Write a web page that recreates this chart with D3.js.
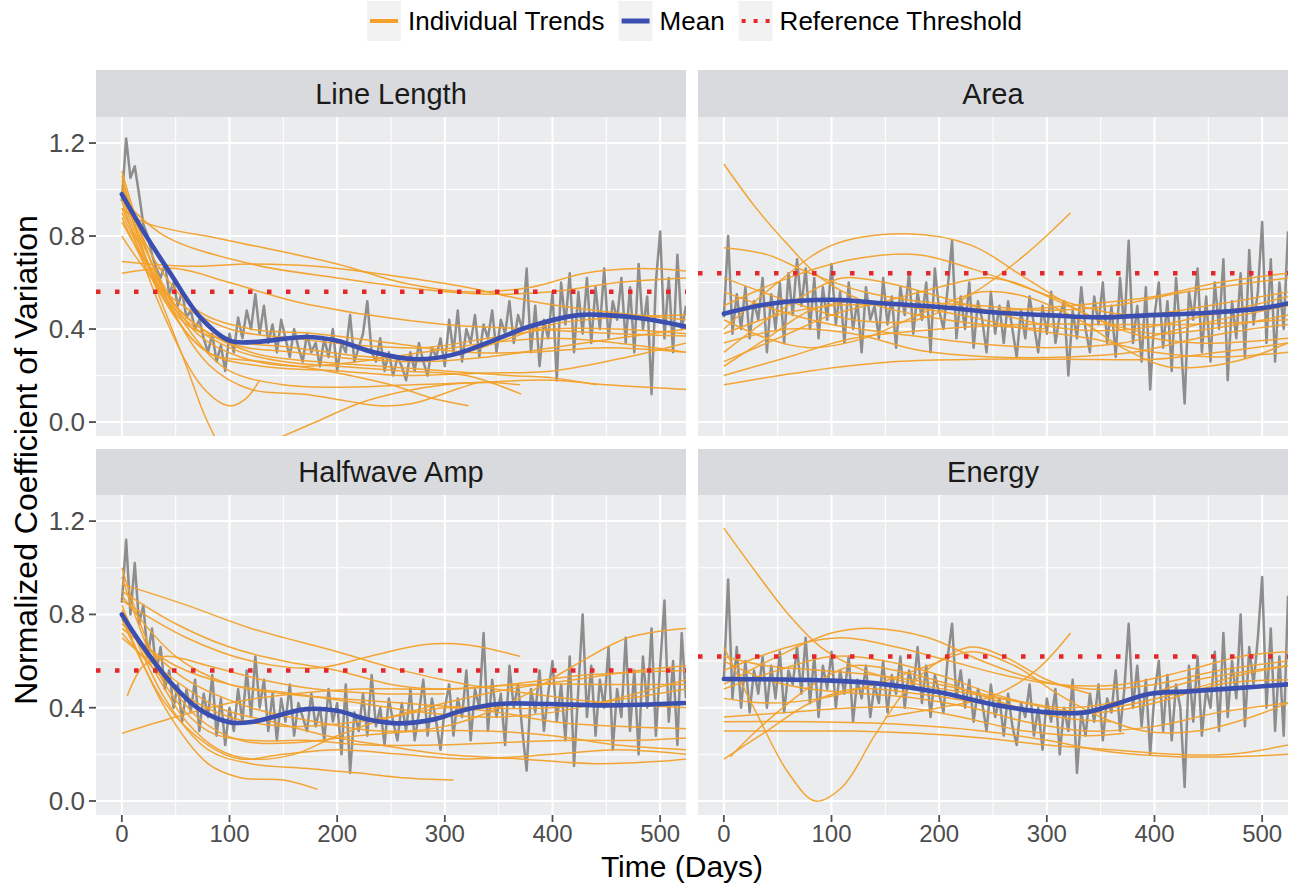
<!DOCTYPE html>
<html>
<head>
<meta charset="utf-8">
<script src="https://cdn.jsdelivr.net/npm/d3@7"></script>
<style>
  body { margin: 0; background: #fff; }
  text { font-family: "Liberation Sans", Arial, Helvetica, sans-serif; }
</style>
</head>
<body>
<svg width="1303" height="888"></svg>
<script>
// facets
let panels = ["Line Length", "Area", "Halfwave Amp", "Energy"];
let thresholds = [0.56, 0.64, 0.56, 0.62];

// daily CV (gray), one reading every 4 days from day 0
let grayStep = 4;
let grayLineLength = [
  0.95, 1.22, 1.05, 1.10, 0.98,
  0.85, 0.80, 0.72, 0.66, 0.62, 0.68,
  0.55, 0.60, 0.50, 0.56, 0.45,
  0.48, 0.40, 0.44, 0.36, 0.30, 0.38, 0.26, 0.33, 0.22, 0.38,
  0.30, 0.45, 0.36, 0.48, 0.40, 0.55, 0.38, 0.50, 0.34, 0.42,
  0.30, 0.44, 0.36, 0.28, 0.40, 0.32, 0.26, 0.38, 0.30, 0.34,
  0.24, 0.36, 0.28, 0.40, 0.22, 0.34, 0.30, 0.46, 0.26, 0.32,
  0.38, 0.52, 0.30, 0.26, 0.36, 0.22, 0.30, 0.20, 0.28, 0.24,
  0.18, 0.30, 0.22, 0.34, 0.26, 0.20, 0.32, 0.28, 0.36, 0.24,
  0.44, 0.30, 0.48, 0.26, 0.40, 0.34, 0.46, 0.28, 0.42, 0.36,
  0.48, 0.30, 0.44, 0.38, 0.52, 0.34, 0.46, 0.40, 0.66, 0.30,
  0.50, 0.24, 0.44, 0.36, 0.56, 0.18, 0.60, 0.42, 0.64, 0.30,
  0.56, 0.38, 0.62, 0.34, 0.58, 0.40, 0.66, 0.36, 0.52, 0.44,
  0.62, 0.34, 0.58, 0.30, 0.68, 0.40, 0.54, 0.12, 0.60, 0.82,
  0.36, 0.62, 0.30, 0.72, 0.40, 0.50
];
let grayArea = [
  0.45, 0.80, 0.38, 0.55, 0.40,
  0.58, 0.36, 0.52, 0.44, 0.62, 0.30,
  0.55, 0.40, 0.60, 0.34, 0.64,
  0.46, 0.70, 0.50, 0.66, 0.40, 0.62, 0.36, 0.58, 0.44, 0.68,
  0.42, 0.56, 0.34, 0.60, 0.40, 0.52, 0.30, 0.58, 0.44, 0.50,
  0.36, 0.62, 0.42, 0.54, 0.32, 0.58, 0.46, 0.64, 0.38, 0.56,
  0.44, 0.60, 0.30, 0.66, 0.48, 0.40, 0.58, 0.78, 0.36, 0.54,
  0.40, 0.60, 0.32, 0.52, 0.44, 0.30, 0.56, 0.38, 0.50, 0.34,
  0.52, 0.40, 0.28, 0.48, 0.36, 0.54, 0.42, 0.30, 0.50, 0.38,
  0.56, 0.34, 0.46, 0.52, 0.20, 0.48, 0.36, 0.58, 0.40, 0.30,
  0.54, 0.42, 0.60, 0.34, 0.50, 0.28, 0.62, 0.40, 0.78, 0.34,
  0.50, 0.26, 0.58, 0.14, 0.46, 0.60, 0.32, 0.52, 0.22, 0.62,
  0.38, 0.08, 0.56, 0.44, 0.66, 0.30, 0.54, 0.26, 0.60, 0.40,
  0.70, 0.18, 0.52, 0.36, 0.64, 0.28, 0.74, 0.42, 0.56, 0.86,
  0.34, 0.70, 0.26, 0.60, 0.40, 0.82
];
let grayHalfwave = [
  0.85, 1.12, 0.80, 1.02, 0.76,
  0.84, 0.62, 0.74, 0.55, 0.66, 0.48,
  0.56, 0.40, 0.50, 0.34, 0.48,
  0.38, 0.52, 0.30, 0.46, 0.36, 0.54, 0.28, 0.44, 0.24, 0.40,
  0.30, 0.48, 0.34, 0.56, 0.36, 0.62, 0.40, 0.52, 0.30, 0.46,
  0.26, 0.44, 0.34, 0.50, 0.28, 0.42, 0.36, 0.30, 0.46, 0.32,
  0.40, 0.26, 0.48, 0.34, 0.42, 0.20, 0.50, 0.12, 0.38, 0.30,
  0.46, 0.28, 0.54, 0.32, 0.40, 0.24, 0.44, 0.34, 0.26, 0.42,
  0.30, 0.48, 0.26, 0.38, 0.52, 0.28, 0.44, 0.34, 0.22, 0.40,
  0.50, 0.28, 0.44, 0.36, 0.56, 0.26, 0.48, 0.40, 0.72, 0.30,
  0.52, 0.36, 0.46, 0.24, 0.58, 0.40, 0.50, 0.30, 0.13, 0.48,
  0.38, 0.56, 0.30, 0.46, 0.60, 0.34, 0.50, 0.26, 0.62, 0.15,
  0.48, 0.80, 0.36, 0.58, 0.28, 0.52, 0.40, 0.66, 0.22, 0.48,
  0.36, 0.70, 0.30, 0.56, 0.20, 0.62, 0.40, 0.74, 0.28, 0.58,
  0.86, 0.34, 0.60, 0.24, 0.72, 0.44
];
let grayEnergy = [
  0.52, 0.95, 0.44, 0.66, 0.40,
  0.60, 0.38, 0.56, 0.46, 0.62, 0.40,
  0.58, 0.44, 0.64, 0.38, 0.56,
  0.50, 0.66, 0.46, 0.70, 0.42, 0.62, 0.36, 0.58, 0.48, 0.64,
  0.40, 0.56, 0.46, 0.62, 0.34, 0.52, 0.44, 0.58, 0.36, 0.50,
  0.42, 0.60, 0.38, 0.54, 0.46, 0.62, 0.40, 0.56, 0.48, 0.66,
  0.42, 0.58, 0.36, 0.54, 0.46, 0.38, 0.62, 0.76, 0.44, 0.56,
  0.40, 0.52, 0.34, 0.48, 0.42, 0.30, 0.50, 0.36, 0.44, 0.28,
  0.46, 0.32, 0.24, 0.42, 0.36, 0.50, 0.28, 0.40, 0.22, 0.44,
  0.34, 0.48, 0.20, 0.40, 0.30, 0.52, 0.12, 0.38, 0.28, 0.46,
  0.34, 0.50, 0.26, 0.44, 0.38, 0.56, 0.30, 0.48, 0.76, 0.40,
  0.58, 0.32, 0.52, 0.20, 0.46, 0.60, 0.30, 0.54, 0.26, 0.50,
  0.40, 0.06, 0.58, 0.34, 0.62, 0.28, 0.48, 0.40, 0.64, 0.30,
  0.72, 0.36, 0.60, 0.44, 0.80, 0.32, 0.66, 0.50, 0.70, 0.96,
  0.40, 0.74, 0.30, 0.62, 0.28, 0.88
];

// mean curves [day, value]
let meanLineLength = [[0,0.98],[20,0.82],[45,0.64],[73,0.45],[100,0.35],[122,0.344],[171,0.366],[200,0.35],[234,0.30],[273,0.27],[308,0.29],[350,0.36],[378,0.41],[424,0.46],[450,0.46],[484,0.445],[524,0.41]];
let meanArea = [[0,0.466],[45,0.51],[100,0.526],[150,0.51],[200,0.495],[255,0.47],[300,0.46],[350,0.45],[396,0.46],[450,0.47],[500,0.49],[524,0.51]];
let meanHalfwave = [[0,0.80],[20,0.66],[45,0.51],[73,0.39],[101,0.337],[122,0.34],[171,0.394],[200,0.387],[228,0.35],[255,0.333],[290,0.35],[318,0.39],[350,0.416],[396,0.416],[450,0.41],[524,0.42]];
let meanEnergy = [[0,0.523],[100,0.516],[150,0.50],[200,0.466],[255,0.41],[300,0.38],[336,0.38],[360,0.41],[396,0.46],[431,0.47],[473,0.483],[524,0.50]];

// individual trends [day, value]
let trendsLineLength = [
  [[0,0.92],[20,0.86],[100,0.78],[200,0.68],[260,0.60],[320,0.56],[380,0.58],[430,0.64],[480,0.66],[524,0.65]],
  [[0,0.96],[40,0.80],[120,0.68],[200,0.62],[280,0.57],[340,0.55],[400,0.56],[460,0.60],[524,0.62]],
  [[0,0.69],[60,0.67],[120,0.68],[180,0.67],[250,0.63],[320,0.58],[380,0.52],[440,0.48],[524,0.44]],
  [[0,0.64],[50,0.66],[100,0.60],[160,0.52],[230,0.46],[300,0.42],[380,0.40],[460,0.38],[524,0.37]],
  [[0,1.02],[30,0.70],[70,0.48],[120,0.40],[180,0.38],[250,0.34],[320,0.30],[380,0.30],[450,0.32],[524,0.30]],
  [[0,1.06],[30,0.62],[60,0.42],[100,0.35],[160,0.32],[230,0.28],[300,0.28],[360,0.36],[400,0.42],[460,0.45],[524,0.46]],
  [[0,0.97],[40,0.52],[80,0.30],[130,0.24],[200,0.22],[260,0.20],[330,0.21],[400,0.22],[470,0.28],[524,0.34]],
  [[0,1.00],[30,0.60],[60,0.24],[75,0.05],[88,-0.08]],
  [[0,0.95],[40,0.45],[75,0.15],[100,0.07],[115,0.10],[128,0.18]],
  [[0,1.04],[40,0.55],[80,0.25],[120,0.14],[170,0.12],[210,0.09],[240,0.07],[270,0.08],[310,0.14],[330,0.17]],
  [[145,-0.07],[180,0.00],[220,0.08],[260,0.13],[300,0.16],[340,0.17],[370,0.16]],
  [[0,1.08],[30,0.66],[70,0.35],[100,0.22],[150,0.16],[200,0.15],[270,0.16],[330,0.17],[400,0.18],[450,0.16],[524,0.14]],
  [[0,0.90],[50,0.48],[100,0.32],[150,0.26],[200,0.24],[260,0.22],[320,0.20],[371,0.12]],
  [[0,0.86],[60,0.45],[120,0.30],[180,0.26],[240,0.24],[300,0.22],[360,0.20],[400,0.19],[441,0.16]],
  [[0,0.80],[40,0.56],[100,0.40],[160,0.36],[220,0.33],[280,0.32],[340,0.36],[400,0.40],[460,0.40],[524,0.38]],
  [[0,0.88],[40,0.52],[80,0.30],[130,0.26],[190,0.22],[250,0.16],[290,0.10],[322,0.07]],
  [[0,0.98],[35,0.62],[70,0.38],[110,0.28],[160,0.24],[220,0.26],[280,0.30],[340,0.34],[400,0.36],[460,0.34],[524,0.30]],
  [[0,0.92],[50,0.50],[100,0.34],[160,0.30],[220,0.27],[280,0.26],[340,0.28],[400,0.32],[460,0.36],[524,0.40]]
];
let trendsArea = [
  [[0,1.11],[30,0.92],[60,0.76],[90,0.62],[130,0.52],[180,0.46],[240,0.42],[300,0.40]],
  [[0,0.62],[60,0.52],[120,0.44],[180,0.44],[230,0.55],[280,0.72],[322,0.90]],
  [[0,0.40],[50,0.60],[100,0.76],[170,0.81],[230,0.76],[280,0.62],[330,0.48],[380,0.38],[440,0.34],[524,0.36]],
  [[0,0.50],[60,0.62],[120,0.70],[180,0.72],[230,0.66],[280,0.58],[330,0.50],[380,0.46],[450,0.50],[524,0.56]],
  [[0,0.75],[40,0.72],[80,0.64],[130,0.56],[180,0.52],[240,0.50],[300,0.48],[360,0.50],[430,0.56],[524,0.62]],
  [[0,0.16],[80,0.22],[160,0.26],[240,0.27],[320,0.27],[400,0.27],[460,0.30],[524,0.34]],
  [[0,0.20],[60,0.28],[120,0.36],[200,0.40],[280,0.42],[360,0.42],[430,0.42],[524,0.44]],
  [[0,0.24],[40,0.36],[80,0.48],[120,0.52],[180,0.50],[250,0.48],[320,0.50],[400,0.54],[460,0.60],[524,0.64]],
  [[0,0.26],[60,0.38],[100,0.46],[150,0.52],[200,0.58],[240,0.62],[270,0.60],[310,0.52],[360,0.42],[400,0.38],[450,0.40],[524,0.46]],
  [[0,0.44],[40,0.36],[80,0.32],[130,0.36],[190,0.48],[240,0.56],[280,0.54],[330,0.44],[370,0.32],[410,0.24],[450,0.24],[490,0.28],[524,0.34]],
  [[0,0.34],[60,0.40],[120,0.38],[180,0.31],[250,0.28],[320,0.28],[380,0.30],[440,0.36],[490,0.40],[524,0.42]],
  [[0,0.56],[50,0.48],[100,0.42],[160,0.38],[230,0.34],[300,0.32],[370,0.34],[440,0.42],[524,0.50]],
  [[0,0.30],[40,0.44],[80,0.56],[110,0.62],[150,0.60],[200,0.54],[260,0.46],[320,0.40],[380,0.40],[450,0.46],[524,0.54]],
  [[0,0.38],[50,0.46],[100,0.50],[160,0.50],[220,0.46],[280,0.40],[340,0.36],[400,0.30],[460,0.28],[524,0.30]]
];
let trendsHalfwave = [
  [[0,0.93],[60,0.84],[120,0.74],[200,0.64],[260,0.56],[320,0.50],[380,0.46],[450,0.42],[524,0.40]],
  [[0,0.90],[50,0.76],[100,0.66],[150,0.60],[200,0.56],[250,0.50],[300,0.48],[360,0.50],[430,0.54],[524,0.56]],
  [[0,0.86],[60,0.70],[120,0.60],[180,0.57],[230,0.62],[280,0.67],[320,0.67],[370,0.62]],
  [[0,0.76],[60,0.52],[120,0.40],[180,0.34],[240,0.30],[300,0.32],[360,0.42],[420,0.58],[470,0.70],[524,0.74]],
  [[0,0.29],[50,0.36],[100,0.42],[160,0.46],[220,0.48],[300,0.48],[380,0.50],[450,0.50],[524,0.50]],
  [[5,0.45],[20,0.58],[40,0.62],[80,0.58],[130,0.52],[180,0.48],[240,0.46],[300,0.46]],
  [[0,0.80],[40,0.40],[80,0.16],[110,0.10],[150,0.09],[182,0.05]],
  [[0,0.84],[40,0.44],[80,0.22],[120,0.16],[170,0.14],[220,0.12],[260,0.10],[308,0.09]],
  [[0,0.78],[40,0.42],[80,0.24],[110,0.18],[150,0.20],[200,0.22],[260,0.20],[320,0.18],[400,0.20],[460,0.22],[524,0.20]],
  [[0,0.96],[40,0.50],[80,0.30],[120,0.26],[170,0.26],[230,0.24],[290,0.24],[350,0.25],[420,0.26],[480,0.26],[524,0.27]],
  [[0,0.72],[50,0.48],[100,0.36],[150,0.32],[200,0.33],[250,0.36],[300,0.40],[350,0.38],[400,0.34],[460,0.32],[524,0.31]],
  [[0,0.70],[40,0.55],[90,0.40],[140,0.34],[190,0.28],[240,0.24],[300,0.20],[370,0.18],[440,0.16],[500,0.17],[524,0.18]],
  [[0,0.88],[50,0.62],[100,0.50],[150,0.46],[200,0.44],[260,0.42],[330,0.40],[400,0.40],[470,0.44],[524,0.48]],
  [[0,0.82],[30,0.56],[60,0.34],[90,0.22],[120,0.18],[160,0.20],[200,0.28],[250,0.36],[300,0.42],[360,0.48],[420,0.52],[480,0.56],[524,0.58]],
  [[0,1.00],[30,0.62],[70,0.36],[110,0.26],[160,0.25],[220,0.28],[280,0.30],[340,0.30],[400,0.28],[460,0.24],[524,0.22]],
  [[0,0.74],[50,0.58],[100,0.50],[160,0.46],[220,0.42],[280,0.38],[340,0.36],[400,0.38],[460,0.44],[524,0.52]]
];
let trendsEnergy = [
  [[0,1.17],[30,0.98],[60,0.80],[90,0.66],[130,0.56],[180,0.50],[230,0.46],[280,0.42]],
  [[0,0.66],[30,0.38],[60,0.12],[85,0.00],[110,0.06],[140,0.28],[170,0.48],[200,0.60],[230,0.66],[260,0.62],[300,0.52],[340,0.46]],
  [[150,0.36],[200,0.40],[250,0.45],[290,0.56],[322,0.72]],
  [[0,0.50],[50,0.62],[100,0.72],[140,0.74],[190,0.70],[240,0.60],[290,0.52],[340,0.48],[400,0.50],[460,0.56],[524,0.60]],
  [[0,0.56],[60,0.66],[110,0.70],[160,0.66],[210,0.60],[260,0.54],[310,0.50],[370,0.50],[430,0.56],[480,0.62],[524,0.64]],
  [[0,0.18],[40,0.30],[80,0.42],[120,0.48],[180,0.46],[240,0.42],[300,0.38],[360,0.40],[420,0.46],[480,0.54],[524,0.58]],
  [[0,0.30],[60,0.30],[120,0.30],[180,0.29],[240,0.27],[300,0.24],[360,0.22],[420,0.20],[470,0.20],[524,0.24]],
  [[0,0.34],[80,0.34],[160,0.33],[240,0.30],[300,0.26],[360,0.21],[420,0.19],[470,0.19],[524,0.20]],
  [[0,0.36],[60,0.38],[120,0.40],[170,0.40],[220,0.36],[280,0.30],[340,0.28],[372,0.29]],
  [[0,0.60],[40,0.52],[80,0.48],[130,0.46],[180,0.44],[230,0.40],[280,0.34],[340,0.30],[400,0.32],[460,0.38],[524,0.42]],
  [[0,0.48],[50,0.56],[100,0.62],[150,0.60],[200,0.54],[250,0.46],[300,0.40],[350,0.38],[400,0.42],[460,0.50],[524,0.52]],
  [[0,0.44],[40,0.42],[90,0.44],[140,0.50],[190,0.58],[230,0.64],[270,0.58],[310,0.46],[350,0.36],[390,0.30],[440,0.30],[490,0.36],[524,0.42]],
  [[0,0.62],[40,0.58],[90,0.56],[140,0.54],[200,0.50],[260,0.44],[320,0.40],[380,0.44],[440,0.52],[524,0.58]],
  [[6,0.19],[30,0.30],[60,0.42],[90,0.52],[120,0.58],[160,0.56],[210,0.50],[260,0.42],[310,0.36],[360,0.34]]
];

let grays = [grayLineLength, grayArea, grayHalfwave, grayEnergy];
let means = [meanLineLength, meanArea, meanHalfwave, meanEnergy];
let trends = [trendsLineLength, trendsArea, trendsHalfwave, trendsEnergy];

let xTicks = [0, 100, 200, 300, 400, 500];
let yTicks = [0, 0.4, 0.8, 1.2];
let xMinor = [50, 150, 250, 350, 450];
let yMinor = [0.2, 0.6, 1.0];

let orange = "#f2a12a";
let blue = "#3a4fb0";
let red = "#e5262b";

let svg = d3.select("svg");

// panel geometry
let colX = [[96, 686], [698, 1288]];
let rowY = [{ strip: 70, top: 117, bottom: 436 }, { strip: 449, top: 495, bottom: 815 }];

panels.forEach((name, i) => {
  let col = i % 2, row = Math.floor(i / 2);
  let [x0, x1] = colX[col];
  let { strip, top, bottom } = rowY[row];

  let x = d3.scaleLinear().domain([-24, 524]).range([x0, x1]);
  let y = d3.scaleLinear().domain([-0.06, 1.312]).range([bottom, top]);

  let g = svg.append("g");

  g.append("rect")
    .attr("x", x0).attr("y", strip)
    .attr("width", x1 - x0).attr("height", top - strip)
    .attr("fill", "#d9dadd");
  g.append("text")
    .attr("x", (x0 + x1) / 2).attr("y", (strip + top) / 2 + 10)
    .attr("text-anchor", "middle")
    .attr("font-size", 29)
    .attr("fill", "#1a1a1a")
    .text(name);

  g.append("rect")
    .attr("x", x0).attr("y", top)
    .attr("width", x1 - x0).attr("height", bottom - top)
    .attr("fill", "#ebecee");

  let clipId = "clip" + i;
  g.append("clipPath").attr("id", clipId)
    .append("rect")
    .attr("x", x0).attr("y", top)
    .attr("width", x1 - x0).attr("height", bottom - top);

  // grid
  g.selectAll(".xminor").data(xMinor).enter().append("line")
    .attr("x1", d => x(d)).attr("x2", d => x(d))
    .attr("y1", top).attr("y2", bottom)
    .attr("stroke", "#fff").attr("stroke-width", 1);
  g.selectAll(".yminor").data(yMinor).enter().append("line")
    .attr("y1", d => y(d)).attr("y2", d => y(d))
    .attr("x1", x0).attr("x2", x1)
    .attr("stroke", "#fff").attr("stroke-width", 1);
  g.selectAll(".xmajor").data(xTicks).enter().append("line")
    .attr("x1", d => x(d)).attr("x2", d => x(d))
    .attr("y1", top).attr("y2", bottom)
    .attr("stroke", "#fff").attr("stroke-width", 2);
  g.selectAll(".ymajor").data(yTicks).enter().append("line")
    .attr("y1", d => y(d)).attr("y2", d => y(d))
    .attr("x1", x0).attr("x2", x1)
    .attr("stroke", "#fff").attr("stroke-width", 2);

  let plot = g.append("g").attr("clip-path", `url(#${clipId})`);

  let grayLine = d3.line()
    .x((d, j) => x(j * grayStep))
    .y(d => y(d));
  plot.append("path")
    .attr("d", grayLine(grays[i]))
    .attr("fill", "none")
    .attr("stroke", "#8d8d8d")
    .attr("stroke-width", 2.5)
    .attr("stroke-linejoin", "round");

  let smooth = d3.line()
    .x(d => x(d[0]))
    .y(d => y(d[1]))
    .curve(d3.curveCatmullRom.alpha(0.5));

  plot.selectAll(".trend").data(trends[i]).enter().append("path")
    .attr("d", d => smooth(d))
    .attr("fill", "none")
    .attr("stroke", orange)
    .attr("stroke-width", 1.5)
    .attr("opacity", 0.95);

  plot.append("line")
    .attr("x1", x0).attr("x2", x1)
    .attr("y1", y(thresholds[i])).attr("y2", y(thresholds[i]))
    .attr("stroke", red)
    .attr("stroke-width", 4.5)
    .attr("stroke-dasharray", "4.5 14.5");

  plot.append("path")
    .attr("d", smooth(means[i]))
    .attr("fill", "none")
    .attr("stroke", blue)
    .attr("stroke-width", 4.6)
    .attr("stroke-linecap", "round");

  // y axis on left column
  if (col === 0) {
    yTicks.forEach(t => {
      g.append("line")
        .attr("x1", x0 - 7).attr("x2", x0)
        .attr("y1", y(t)).attr("y2", y(t))
        .attr("stroke", "#4d4d4d").attr("stroke-width", 1.8);
      g.append("text")
        .attr("x", x0 - 11).attr("y", y(t) + 9)
        .attr("text-anchor", "end")
        .attr("font-size", 26)
        .attr("fill", "#4d4d4d")
        .text(d3.format(".1f")(t));
    });
  }
  // x axis on bottom row
  if (row === 1) {
    xTicks.forEach(t => {
      g.append("line")
        .attr("x1", x(t)).attr("x2", x(t))
        .attr("y1", bottom).attr("y2", bottom + 7)
        .attr("stroke", "#4d4d4d").attr("stroke-width", 1.8);
      g.append("text")
        .attr("x", x(t)).attr("y", bottom + 27)
        .attr("text-anchor", "middle")
        .attr("font-size", 24)
        .attr("fill", "#4d4d4d")
        .text(t);
    });
  }
});

// axis titles
svg.append("text")
  .attr("x", 682).attr("y", 877)
  .attr("text-anchor", "middle")
  .attr("font-size", 30)
  .text("Time (Days)");
svg.append("text")
  .attr("transform", "translate(37,460) rotate(-90)")
  .attr("text-anchor", "middle")
  .attr("font-size", 32)
  .text("Normalized Coefficient of Variation");

// legend
let legendItems = [
  { label: "Individual Trends", color: orange, width: 4, dash: null },
  { label: "Mean", color: blue, width: 5, dash: null },
  { label: "Reference Threshold", color: red, width: 4, dash: "4 8" }
];
let lx = 367;
let legend = svg.append("g");
legendItems.forEach(it => {
  legend.append("rect")
    .attr("x", lx).attr("y", 1)
    .attr("width", 34).attr("height", 40)
    .attr("fill", "#f2f2f2");
  legend.append("line")
    .attr("x1", lx + 3).attr("x2", lx + 31)
    .attr("y1", 21).attr("y2", 21)
    .attr("stroke", it.color)
    .attr("stroke-width", it.width)
    .attr("stroke-dasharray", it.dash);
  let t = legend.append("text")
    .attr("x", lx + 41).attr("y", 30)
    .attr("font-size", 26)
    .text(it.label);
  lx += 41 + t.node().getComputedTextLength() + 14;
});
</script>
</body>
</html>
